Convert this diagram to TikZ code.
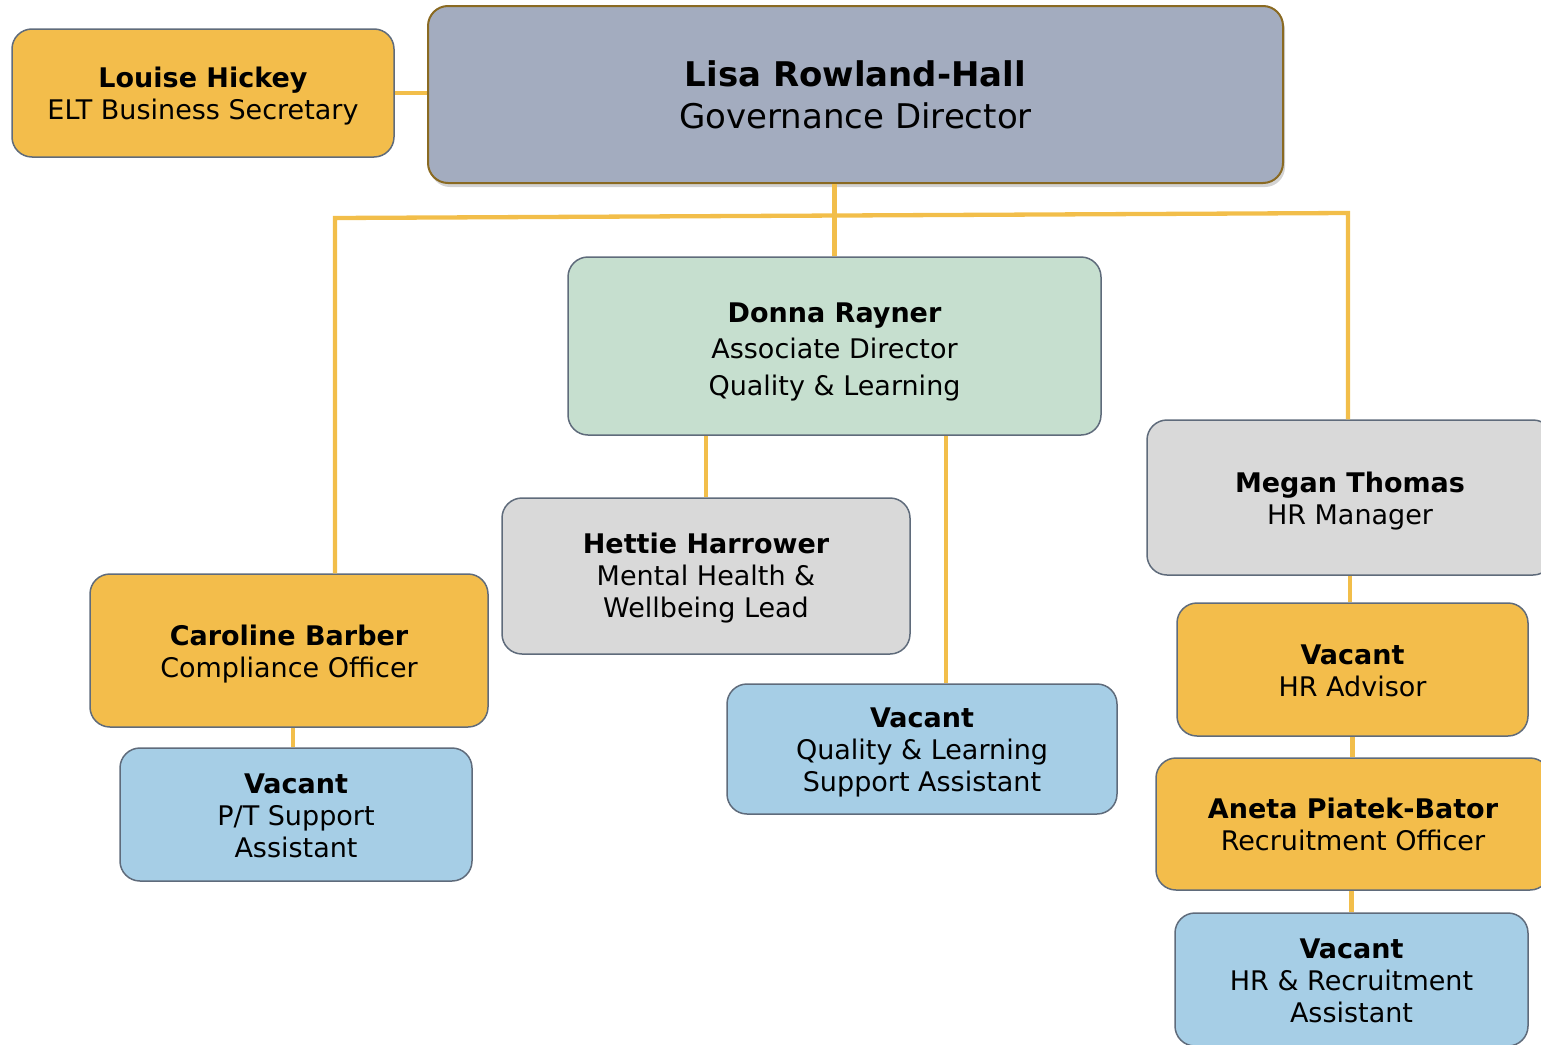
\documentclass[tikz,border=0pt]{standalone}
\usepackage{fontspec}
\setmainfont{DejaVu Sans}
\usetikzlibrary{shadows}
\definecolor{orgfill}{HTML}{F3BD4B}
\definecolor{connc}{HTML}{F2BE4A}
\definecolor{bluefill}{HTML}{A6CEE6}
\definecolor{greyfill}{HTML}{D9D9D9}
\definecolor{greenfill}{HTML}{C6DFCF}
\definecolor{topfill}{HTML}{A3ACBF}
\definecolor{bordc}{HTML}{5F6B7B}
\definecolor{topbord}{HTML}{8A6A22}
\newcommand{\lowr}[1][27pt]{\rule{0pt}{#1}}
\tikzset{
  box/.style={draw=bordc, line width=1.5pt, rounded corners=20pt, align=center, inner sep=0pt,
    font=\fontsize{27}{32}\selectfont, text=black},
  orgbox/.style={box, fill=orgfill},
  bluebox/.style={box, fill=bluefill},
  greybox/.style={box, fill=greyfill},
  conn/.style={draw=connc, line width=4.3pt},
}
\begin{document}
\begin{tikzpicture}[x=1pt,y=-1pt]
\useasboundingbox (0,0) rectangle (1541,1044);
\clip (0,0) rectangle (1541,1044);
% top
\node[box, fill=topfill, draw=topbord, line width=2pt, font=\fontsize{34}{42}\selectfont,
  drop shadow={shadow xshift=2pt, shadow yshift=-4pt, opacity=0.35},
  minimum width=855pt, minimum height=177pt] (lisa) at (855.5,94.5)
  {\textbf{Lisa Rowland-Hall}\\Governance Director};
\node[orgbox, minimum width=382pt, minimum height=128pt] (louise) at (203,93)
  {\lowr\textbf{Louise Hickey}\\ELT Business Secretary};
\node[box, fill=greenfill, font=\fontsize{27}{36.5}\selectfont, minimum width=533pt, minimum height=178pt] (donna) at (834.5,346)
  {\lowr[31pt]\textbf{Donna Rayner}\\Associate Director\\Quality \& Learning};
\node[greybox, minimum width=408pt, minimum height=156pt] (hettie) at (706,576)
  {\lowr[25pt]\textbf{Hettie Harrower}\\Mental Health \&\\Wellbeing Lead};
\node[bluebox, minimum width=390pt, minimum height=130pt] (vql) at (922,749)
  {\lowr\textbf{Vacant}\\Quality \& Learning\\Support Assistant};
\node[greybox, minimum width=406pt, minimum height=155pt] (megan) at (1350,497.5)
  {\lowr\textbf{Megan Thomas}\\HR Manager};
\node[orgbox, minimum width=351pt, minimum height=133pt] (hradv) at (1352.5,669.5)
  {\lowr[22pt]\textbf{Vacant}\\HR Advisor};
\node[orgbox, minimum width=394pt, minimum height=132pt] (aneta) at (1353,824)
  {\lowr[22pt]\textbf{Aneta Piatek-Bator}\\Recruitment Officer};
\node[bluebox, minimum width=353pt, minimum height=133pt] (hrra) at (1351.5,979.5)
  {\lowr[22pt]\textbf{Vacant}\\HR \& Recruitment\\Assistant};
\node[orgbox, minimum width=398pt, minimum height=153pt] (caroline) at (289,650.5)
  {\lowr\textbf{Caroline Barber}\\Compliance Officer};
\node[bluebox, minimum width=352pt, minimum height=133pt] (vpt) at (296,814.5)
  {\lowr[22pt]\textbf{Vacant}\\P/T Support\\Assistant};
% connectors
\coordinate (barL) at (335,218);
\coordinate (barR) at (1348,213);
\coordinate (vqlx) at (946,0);
\coordinate (cx) at (293,0);
\draw[conn] (louise.east) -- (louise.east -| lisa.west);
\draw[conn] (donna.north |- lisa.south) -- (donna.north);
\draw[conn] (caroline.north -| barL) -- (barL) -- (barR) -- (megan.north -| barR);
\draw[conn] (hettie.north |- donna.south) -- (hettie.north);
\draw[conn] (donna.south -| vqlx) -- (vql.north -| vqlx);
\draw[conn] (caroline.south -| cx) -- (vpt.north -| cx);
\draw[conn] (megan.south) -- (megan.south |- hradv.north);
\draw[conn] (hradv.south) -- (hradv.south |- aneta.north);
\draw[conn] (aneta.south -| hrra.north) -- (hrra.north);
\end{tikzpicture}
\end{document}
